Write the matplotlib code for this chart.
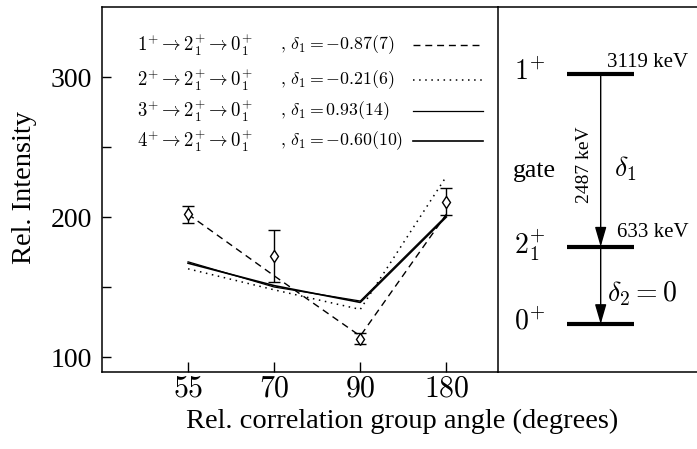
import matplotlib
matplotlib.use("Agg")
import matplotlib.pyplot as plt
import numpy as np

plt.rcParams["font.family"] = ["Liberation Serif", "DejaVu Serif"]
plt.rcParams["mathtext.fontset"] = "cm"

# 角度分组
angles = ["55", "70", "90", "180"]

# 实验数据
exp_y = [202, 172, 113, 211]
exp_err = [6, 18.5, 4, 9.5]

# 理论曲线
fit_1 = [202, 158, 115, 202]
fit_2 = [163, 148, 134, 229]
fit_3 = [168, 150, 140, 201]
fit_4 = [167, 151, 139, 200]

labels_a = [r"$1^{+}\rightarrow 2_1^{+}\rightarrow 0_1^{+}$",
            r"$2^{+}\rightarrow 2_1^{+}\rightarrow 0_1^{+}$",
            r"$3^{+}\rightarrow 2_1^{+}\rightarrow 0_1^{+}$",
            r"$4^{+}\rightarrow 2_1^{+}\rightarrow 0_1^{+}$"]
labels_b = [r"$,\,\delta_1=-0.87(7)$",
            r"$,\,\delta_1=-0.21(6)$",
            r"$,\,\delta_1=0.93(14)$",
            r"$,\,\delta_1=-0.60(10)$"]

fig = plt.figure(figsize=(6.97, 4.49), dpi=100)
ax = fig.add_axes([0.1463, 0.1715, 0.5682, 0.8129])

x = np.arange(len(angles))

styles = [dict(ls=(0, (5, 3.5)), lw=1.0),
          dict(ls=(0, (1, 3)), lw=1.1),
          dict(ls="-", lw=0.9),
          dict(ls="-", lw=1.2)]
fits = [fit_1, fit_2, fit_3, fit_4]

for f, st in zip(fits, styles):
    ax.plot(x, f, color="black", **st)

ax.errorbar(x, exp_y, yerr=exp_err, fmt="d", mfc="white", mec="black",
            ms=6, color="black", ecolor="black", elinewidth=1, capsize=4)

ax.set_xlim(-1, 3.6)
ax.set_ylim(89.3, 350)
ax.set_xticks(x)
ax.set_xticklabels(["$" + a + "$" for a in angles], fontsize=21.5)
ax.set_yticks([100, 200, 300])
ax.set_yticks([150, 250], minor=True)
ax.tick_params(axis="y", labelsize=20, direction="in", length=6.5, width=1, pad=7)
ax.tick_params(axis="y", which="minor", direction="in", length=6.5, width=1)
ax.tick_params(axis="x", direction="in", length=7, width=1, pad=3)
ax.spines["right"].set_visible(False)
for s in ["left", "top", "bottom"]:
    ax.spines[s].set_linewidth(1.1)

fig.text(25 / 697, 1 - 188 / 449, "Rel. Intensity", fontsize=20.5,
         rotation=90, ha="center", va="center")
fig.text(402 / 697, 1 - 421 / 449, "Rel. correlation group angle (degrees)",
         fontsize=20.5, ha="center", va="center")

# 图例
rows = [0.896, 0.800, 0.715, 0.633]
for ry, la, lb, st in zip(rows, labels_a, labels_b, styles):
    ax.text(0.379, ry, la, transform=ax.transAxes, ha="right", va="center", fontsize=13.5)
    ax.text(0.449, ry, lb, transform=ax.transAxes, ha="left", va="center", fontsize=12.8)
    ax.plot([0.785, 0.962], [ry, ry], transform=ax.transAxes, color="black", **st)

# 能级图
ax2 = fig.add_axes([0.7145, 0.1715, 0.2855, 0.8129])
ax2.set_xlim(0, 1)
ax2.set_ylim(0, 1)
ax2.set_xticks([])
ax2.set_yticks([])
ax2.spines["right"].set_visible(False)
for s in ["left", "top", "bottom"]:
    ax2.spines[s].set_linewidth(1.1)

levels = [0.8156, 0.3433, 0.1315]
level_names = [r"$1^{+}$", r"$2_1^{+}$", r"$0^{+}$"]
for ly, nm in zip(levels, level_names):
    ax2.plot([0.345, 0.685], [ly, ly], color="black", lw=3, solid_capstyle="butt")
    ax2.text(0.236, ly + 0.005, nm, ha="right", va="center", fontsize=20)

ax_x = 0.516
for y0, y1 in [(levels[0], levels[1]), (levels[1], levels[2])]:
    ax2.annotate("", xy=(ax_x, y1), xytext=(ax_x, y0),
                 arrowprops=dict(arrowstyle="-|>,head_length=1.2,head_width=0.35",
                                 color="black", lw=1, shrinkA=0, shrinkB=0))

ax2.text(0.754, 0.849, "3119 keV", ha="center", va="center", fontsize=15)
ax2.text(0.779, 0.381, "633 keV", ha="center", va="center", fontsize=15)
ax2.text(0.181, 0.551, "gate", ha="center", va="center", fontsize=18.5)
ax2.text(0.437, 0.567, "2487 keV", ha="center", va="center", fontsize=14, rotation=90)
ax2.text(0.638, 0.556, r"$\delta_1$", ha="center", va="center", fontsize=20)
ax2.text(0.724, 0.216, r"$\delta_2=0$", ha="center", va="center", fontsize=20)

fig.savefig("out.png", dpi=100)
